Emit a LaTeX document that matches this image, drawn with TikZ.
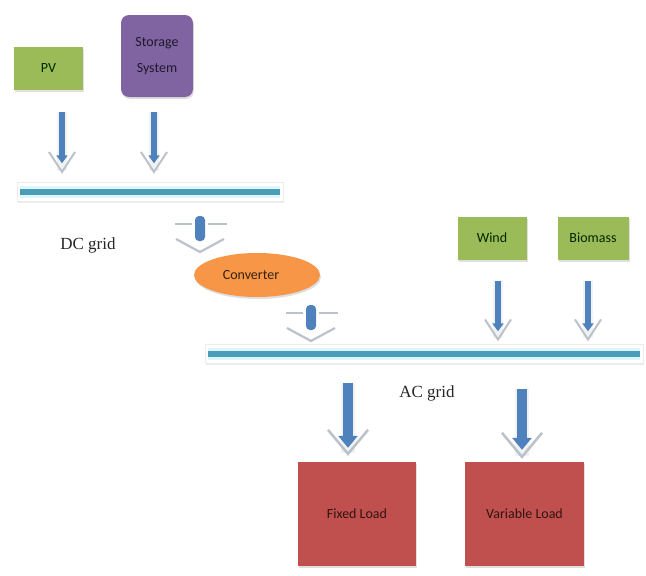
\documentclass[tikz,border=0pt]{standalone}
\usepackage{fontspec}
\setmainfont{Liberation Serif}
\newfontfamily\boxfont{Carlito}
\usetikzlibrary{shapes.geometric,shadows,arrows.meta}
\definecolor{boxgreen}{HTML}{9BBB59}
\definecolor{boxpurple}{HTML}{8064A2}
\definecolor{boxorange}{HTML}{F79646}
\definecolor{boxred}{HTML}{C0504D}
\definecolor{flowblue}{HTML}{4F81BD}
\definecolor{busteal}{HTML}{4A9DB8}
\definecolor{bushalo}{HTML}{DDF5FB}
\definecolor{vgrey}{HTML}{BCC2C9}
\tikzset{
  card/.style={rectangle, inner sep=2pt, font=\boxfont\fontsize{14}{16}\selectfont,
    drop shadow={opacity=0.25, shadow xshift=1pt, shadow yshift=-2pt}},
  greenbox/.style={card, fill=boxgreen, text=black!85!green, minimum width=69pt, minimum height=43pt},
  purplebox/.style={card, fill=boxpurple, rounded corners=8pt, text=black!75!boxpurple, minimum width=72pt, minimum height=82pt, align=center},
  redbox/.style={card, fill=boxred, text=black!75!boxred, minimum width=118pt, minimum height=104pt},
  convbox/.style={ellipse, fill=boxorange, text=black!78!boxorange, minimum width=126pt, minimum height=44pt, inner sep=0pt,
    font=\boxfont\fontsize{14}{16}\selectfont, drop shadow={opacity=0.25, shadow xshift=1pt, shadow yshift=-2pt}},
  busbox/.style={rectangle, fill=white, draw=gray!15, minimum height=19pt, inner sep=0pt,
    drop shadow={opacity=0.15, shadow xshift=1pt, shadow yshift=-1.5pt}},
  gridlabel/.style={font=\fontsize{17}{18}\selectfont, text=black!85},
  thingrey/.style={draw=vgrey!22, line width=10pt,
    -{Straight Barb[color=vgrey, line width=2pt, length=20pt, width=26pt]}},
  thinblue/.style={draw=flowblue, line width=6pt, -{Triangle[length=8pt, width=11pt]}},
  thickgrey/.style={draw=vgrey!22, line width=14pt,
    -{Straight Barb[color=vgrey, line width=2.5pt, length=24pt, width=40pt]}},
  thickblue/.style={draw=flowblue, line width=10pt, -{Triangle[length=12pt, width=19pt]}},
  busline/.style={draw=busteal, line width=6pt},
  bushalobar/.style={draw=bushalo, line width=12pt},
  biarrow/.pic={
    \draw[vgrey, line width=2.2pt] (-25,8) -- (-8,8) (8,8) -- (27,8);
    \draw[vgrey, line width=2.2pt] (-24,23) -- (0,36) -- (24,23);
    \fill[white] (-7.5,-1) rectangle (7.5,27);
    \fill[flowblue, rounded corners=4pt] (-5,0) rectangle (5,25);
  }
}
% #1 kind, #2 from, #3 to, #4 shorten start, #5 shorten end (grey), #6 shorten end (blue)
\newcommand\myflow[6]{%
  \draw[#1grey, shorten <=#4, shorten >=#5] #2 -- #3;
  \draw[#1blue, shorten <=#4, shorten >=#6] #2 -- #3;}
\begin{document}
\begin{tikzpicture}[x=1pt, y=-1pt]
\useasboundingbox[fill=white] (0,0) rectangle (646,576);

% source boxes
\node[greenbox] (pv) at (48.5,68.5) {PV};
\node[purplebox] (storage) at (157,56) {Storage\\[10pt]System};
\node[greenbox] (wind) at (492,238) {Wind};
\node[greenbox, minimum width=71pt] (biomass) at (593,238) {Biomass};

% buses
\node[busbox, minimum width=266pt] (dcbus) at (150,192) {};
\draw[bushalobar] ([xshift=3pt]dcbus.west) -- ([xshift=-3pt]dcbus.east);
\draw[busline] ([xshift=3pt]dcbus.west) -- ([xshift=-3pt]dcbus.east);
\node[busbox, minimum width=438pt] (acbus) at (424,354) {};
\draw[bushalobar] ([xshift=3pt]acbus.west) -- ([xshift=-3pt]acbus.east);
\draw[busline] ([xshift=3pt]acbus.west) -- ([xshift=-3pt]acbus.east);

\node[gridlabel] (dclabel) at (88,245) {DC grid};
\node[gridlabel] (aclabel) at (427,393) {AC grid};

% converter and its bidirectional links
\node[convbox] (conv) at (257,275) {Converter\hspace*{12pt}};
\pic (linkdc) at (200,216) {biarrow};
\pic (linkac) at (311,305) {biarrow};

% loads
\node[redbox] (fixed) at (357,514) {Fixed Load};
\node[redbox, minimum width=119pt] (variable) at (524.5,514) {Variable Load};

% source arrows
\myflow{thin}{([xshift=13.5pt]pv.south)}{([xshift=13.5pt]pv.south |- dcbus.north)}{22pt}{8.5pt}{19pt}
\myflow{thin}{([xshift=-3pt]storage.south)}{([xshift=-3pt]storage.south |- dcbus.north)}{15pt}{8.5pt}{19pt}
\myflow{thin}{([xshift=6pt]wind.south)}{([xshift=6pt]wind.south |- acbus.north)}{21pt}{3pt}{13pt}
\myflow{thin}{([xshift=-5pt]biomass.south)}{([xshift=-5pt]biomass.south |- acbus.north)}{21pt}{3pt}{13pt}

% load arrows
\myflow{thick}{(fixed.north |- acbus.south) ++(-9pt,0)}{([xshift=-9pt]fixed.north)}{19pt}{6pt}{14pt}
\myflow{thick}{(variable.north |- acbus.south) ++(-2.5pt,0)}{([xshift=-2.5pt]variable.north)}{25pt}{3pt}{12pt}
\end{tikzpicture}
\end{document}
